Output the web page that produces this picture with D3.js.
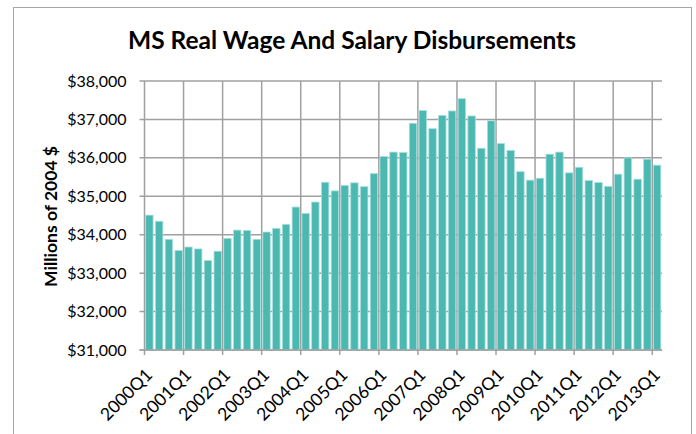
<!DOCTYPE html>
<html>
<head>
<meta charset="utf-8">
<script src="https://cdn.jsdelivr.net/npm/d3@7"></script>
<style>
  body { margin: 0; background: #fff; }
  svg { display: block; font-family: Lato, "Open Sans", sans-serif; }
</style>
</head>
<body>
<script>
// Chart size
var width = 696;
var height = 434;

// Quarters 2000Q1 .. 2013Q1
var years = d3.range(2000, 2014);
var quarters = [];
years.forEach(function(y) {
  [1, 2, 3, 4].forEach(function(q) {
    if (y < 2013 || q === 1) quarters.push(y + "Q" + q);
  });
});

// Real wage and salary disbursements, millions of 2004 $
var wages = [
  34510, 34350, 33880, 33590, 33680, 33630, 33330, 33570,
  33905, 34120, 34110, 33880, 34070, 34165, 34270, 34720,
  34555, 34850, 35365, 35140, 35280, 35350, 35250, 35590,
  36035, 36150, 36140, 36900, 37235, 36760, 37105, 37220,
  37540, 37090, 36250, 36965, 36375, 36195, 35640, 35420,
  35470, 36095, 36150, 35610, 35755, 35410, 35360, 35260,
  35575, 36000, 35445, 35965, 35810
];

var yTicks = [31000, 32000, 33000, 34000, 35000, 36000, 37000, 38000];

var plot = { left: 144.5, right: 662, top: 81, bottom: 350 };

var svg = d3.select("body").append("svg")
  .attr("width", width)
  .attr("height", height);

// outer chart border
svg.append("rect")
  .attr("x", 13.5)
  .attr("y", 7.5)
  .attr("width", 678)
  .attr("height", 440)
  .attr("fill", "none")
  .attr("stroke", "#a6a6a6")
  .attr("stroke-width", 1);

var x = d3.scaleBand()
  .domain(quarters)
  .range([plot.left, plot.right])
  .paddingInner(0.24)
  .paddingOuter(0.12);

var y = d3.scaleLinear()
  .domain([31000, 38000])
  .range([plot.bottom, plot.top]);

// left boundary of a category slot
function slotLeft(i) { return plot.left + i * (plot.right - plot.left) / quarters.length; }

// horizontal gridlines
svg.append("g").selectAll("line")
  .data(yTicks)
  .enter().append("line")
  .attr("x1", plot.left - 5)
  .attr("x2", plot.right)
  .attr("y1", function(d) { return y(d); })
  .attr("y2", function(d) { return y(d); })
  .attr("stroke", "#a0a0a0")
  .attr("stroke-width", 1.5);

// vertical gridlines every 4 quarters
var yearIdx = quarters.map(function(q, i) { return i; }).filter(function(i) { return i % 4 === 0; });
svg.append("g").selectAll("line")
  .data(yearIdx)
  .enter().append("line")
  .attr("x1", function(i) { return slotLeft(i); })
  .attr("x2", function(i) { return slotLeft(i); })
  .attr("y1", plot.top)
  .attr("y2", plot.bottom + 5)
  .attr("stroke", "#a0a0a0")
  .attr("stroke-width", 1.5);

// bars
svg.append("g").selectAll("rect")
  .data(wages)
  .enter().append("rect")
  .attr("x", function(d, i) { return x(quarters[i]); })
  .attr("y", function(d) { return y(d); })
  .attr("width", x.bandwidth())
  .attr("height", function(d) { return plot.bottom - y(d); })
  .attr("fill", "#4bb9b2")
  .attr("stroke", "#a9dfdb")
  .attr("stroke-width", 0.8);

// axis line at bottom
svg.append("line")
  .attr("x1", plot.left - 5)
  .attr("x2", plot.right)
  .attr("y1", plot.bottom)
  .attr("y2", plot.bottom)
  .attr("stroke", "#a0a0a0")
  .attr("stroke-width", 1.5);

// y tick labels
svg.append("g").selectAll("text")
  .data(yTicks)
  .enter().append("text")
  .attr("x", plot.left - 18)
  .attr("y", function(d) { return y(d); })
  .attr("dy", "0.35em")
  .attr("text-anchor", "end")
  .attr("font-size", 16)
  .attr("fill", "#000")
  .text(function(d) { return "$" + d3.format(",")(d); });

// x tick labels
svg.append("g").selectAll("text")
  .data(yearIdx)
  .enter().append("text")
  .attr("transform", function(i) {
    var cx = x(quarters[i]) + x.bandwidth() / 2 + 4;
    return "translate(" + cx + "," + (plot.bottom + 26) + ") rotate(-45)";
  })
  .attr("text-anchor", "end")
  .attr("font-size", 17.5)
  .attr("fill", "#000")
  .text(function(i) { return quarters[i]; });

// y axis title
svg.append("text")
  .attr("transform", "translate(51," + ((plot.top + plot.bottom) / 2 + 1) + ") rotate(-90)")
  .attr("dy", "0.35em")
  .attr("text-anchor", "middle")
  .attr("font-size", 17.5)
  .attr("font-weight", "bold")
  .text("Millions of 2004 $");

// title
svg.append("text")
  .attr("x", 352)
  .attr("y", 49)
  .attr("text-anchor", "middle")
  .attr("font-size", 24.5)
  .attr("font-weight", "bold")
  .text("MS Real Wage And Salary Disbursements");
</script>
</body>
</html>
